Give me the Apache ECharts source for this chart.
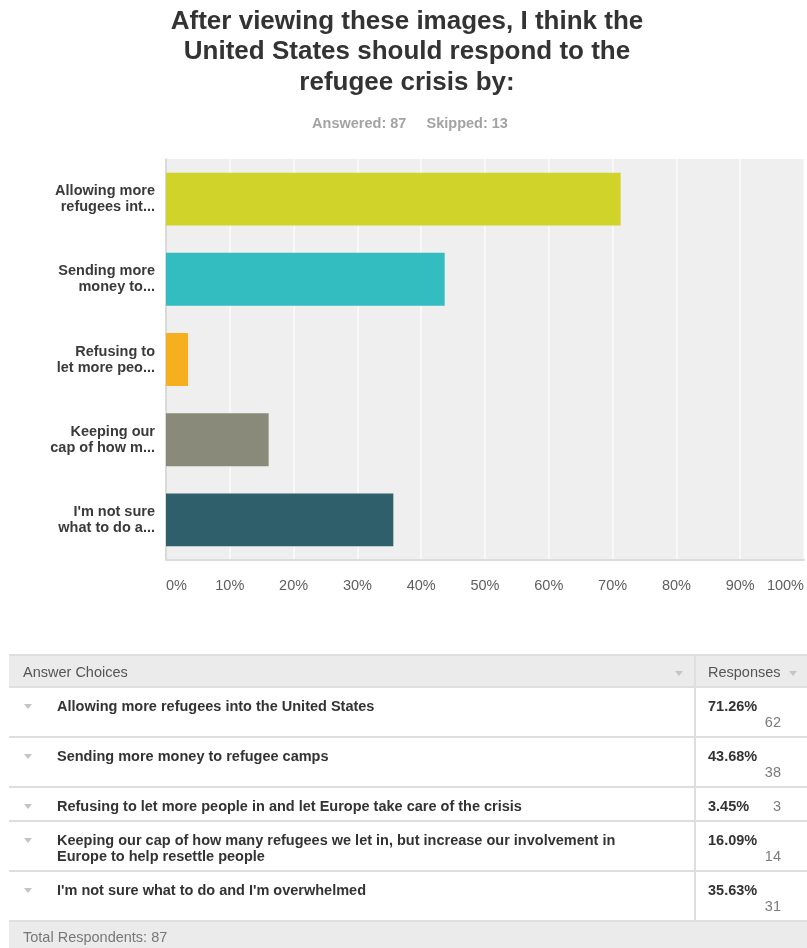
<!DOCTYPE html>
<html>
<head>
<meta charset="utf-8">
<title>Refugee crisis response survey</title>
<script src="https://cdn.jsdelivr.net/npm/echarts@6/dist/echarts.min.js"></script>
<style>
  html, body { margin: 0; padding: 0; background: #ffffff; }
  body { width: 807px; height: 948px; position: relative; overflow: hidden;
         font-family: "Liberation Sans", Arial, Helvetica, sans-serif; }
  #chart { position: absolute; left: 0; top: 0; width: 807px; height: 948px; }
  #table { position: absolute; left: 9px; top: 654px; width: 798px; font-size: 14.5px; }
  .row { display: flex; box-sizing: border-box; border-bottom: 2px solid #dedede; }
  .head { background: #ebebeb; border-top: 2px solid #dedede; height: 34px; }
  .choice { box-sizing: border-box; width: 687px; border-right: 2px solid #dedede;
            position: relative; padding: 10px 0 6px 48px; line-height: 16px; }
  .choice .txt { width: 610px; color: #333; font-weight: bold; }
  .resp { box-sizing: border-box; flex: 1; padding: 10px 0 6px 12px; line-height: 16px; position: relative; }
  .resp .box { width: 73px; display: flex; flex-wrap: wrap; }
  .resp .pct { font-weight: bold; color: #333; }
  .resp .cnt { margin-left: auto; min-width: 25px; text-align: right; color: #7a7a7a; }
  .head .choice, .head .resp { padding-top: 0; padding-bottom: 0; line-height: 32px; color: #555; }
  .head .choice { padding-left: 14px; }
  .tri { position: absolute; width: 0; height: 0; border-left: 4.5px solid transparent;
         border-right: 4.5px solid transparent; border-top: 5px solid #c4c4c4; }
  .row .choice .tri { left: 15px; top: 16px; }
  .head .choice .tri { left: 666px; top: 15px; }
  .head .resp .tri { left: 93px; top: 15px; }
  .foot { background: #ebebeb; height: 30px; line-height: 30px; padding-left: 14px; color: #777; }
</style>
</head>
<body>
<div id="chart"></div>
<div id="table"></div>
<script>
// Survey answers, full wording as offered to respondents
const categories = [
  'Allowing more refugees into the United States',
  'Sending more money to refugee camps',
  'Refusing to let more people in and let Europe take care of the crisis',
  'Keeping our cap of how many refugees we let in, but increase our involvement in Europe to help resettle people',
  "I'm not sure what to do and I'm overwhelmed"
];
// Shortened wording shown beside the bars
const axisLabels = [
  'Allowing more\nrefugees int...',
  'Sending more\nmoney to...',
  'Refusing to\nlet more peo...',
  'Keeping our\ncap of how m...',
  "I'm not sure\nwhat to do a..."
];
// Share of respondents (%) and raw counts
const percents = [71.26, 43.68, 3.45, 16.09, 35.63];
const counts = [62, 38, 3, 14, 31];
const answered = 87;
const skipped = 13;

const palette = ['#d0d32a', '#33bdc0', '#f6af1f', '#8a8a7a', '#2e5f6b'];

const font = '"Liberation Sans", Arial, Helvetica, sans-serif';

const chart = echarts.init(document.getElementById('chart'), null, { renderer: 'canvas' });
chart.setOption({
  animation: false,
  color: palette,
  graphic: [
    {
      type: 'text', x: 407, y: 52,
      style: {
        text: 'After viewing these images, I think the\nUnited States should respond to the\nrefugee crisis by:',
        fontFamily: font, fontSize: 26, fontWeight: 'bold', lineHeight: 30.5,
        fill: '#333333', align: 'center', verticalAlign: 'middle'
      }
    },
    {
      type: 'text', x: 410, y: 124,
      style: {
        text: 'Answered: ' + answered + '     Skipped: ' + skipped,
        fontFamily: font, fontSize: 14.5, fontWeight: 'bold',
        fill: '#a3a3a3', align: 'center', verticalAlign: 'middle'
      }
    }
  ],
  grid: {
    left: 166, top: 159, right: 0, bottom: 388,
    show: true, backgroundColor: '#efefef', borderWidth: 0
  },
  xAxis: {
    type: 'value', min: 0, max: 100, interval: 10,
    axisLine: { show: true, lineStyle: { color: '#dcdcdc', width: 2 } },
    axisTick: { show: false },
    splitLine: { show: true, lineStyle: { color: '#fbfbfb', width: 1.5 } },
    axisLabel: {
      formatter: '{value}%', margin: 18, color: '#5e5e5e',
      fontFamily: font, fontSize: 14.5,
      alignMinLabel: 'left', alignMaxLabel: 'right'
    }
  },
  yAxis: {
    type: 'category', data: categories, inverse: true,
    axisLine: { show: true, lineStyle: { color: '#cfcfcf', width: 1.5 } },
    axisTick: { show: false },
    splitLine: { show: false },
    axisLabel: {
      formatter: (v, i) => axisLabels[i],
      margin: 11, color: '#3a3a3a', fontFamily: font, fontSize: 14.5,
      fontWeight: 'bold', lineHeight: 16, align: 'right'
    }
  },
  series: [{
    type: 'bar', data: percents, colorBy: 'data', barWidth: '66%',
    itemStyle: { borderWidth: 0 }
  }]
});

// Answer table beneath the chart, built from the same arrays
const table = document.getElementById('table');
let html = '<div class="row head"><div class="choice">Answer Choices<span class="tri"></span></div>' +
           '<div class="resp">Responses<span class="tri"></span></div></div>';
categories.forEach((c, i) => {
  html += '<div class="row"><div class="choice"><span class="tri"></span><div class="txt">' +
          c.replace(/&/g, '&amp;').replace(/</g, '&lt;') + '</div></div>' +
          '<div class="resp"><div class="box"><span class="pct">' + percents[i].toFixed(2) + '%</span>' +
          '<span class="cnt">' + counts[i] + '</span></div></div></div>';
});
html += '<div class="foot">Total Respondents: ' + answered + '</div>';
table.innerHTML = html;
</script>
</body>
</html>
